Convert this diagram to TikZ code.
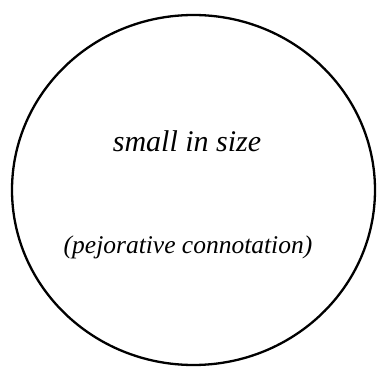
\documentclass[tikz,border=0pt]{standalone}
\usepackage{fontspec}
\setmainfont{Liberation Serif}
\begin{document}
\begin{tikzpicture}[x=1pt,y=1pt,
  lbl/.style={inner sep=0pt,font=\itshape}]
\useasboundingbox (0,0) rectangle (377,367);
\draw[line width=2.3pt] (193.5,177) ellipse [x radius=181.5, y radius=175];
\node[lbl,font=\itshape\fontsize{30}{33}\selectfont,anchor=base] (main) at (187,215) {small in size};
\node[lbl,font=\itshape\fontsize{25.5}{28}\selectfont,anchor=base] (sub) at (188,114) {(pejorative connotation)};
\end{tikzpicture}
\end{document}
